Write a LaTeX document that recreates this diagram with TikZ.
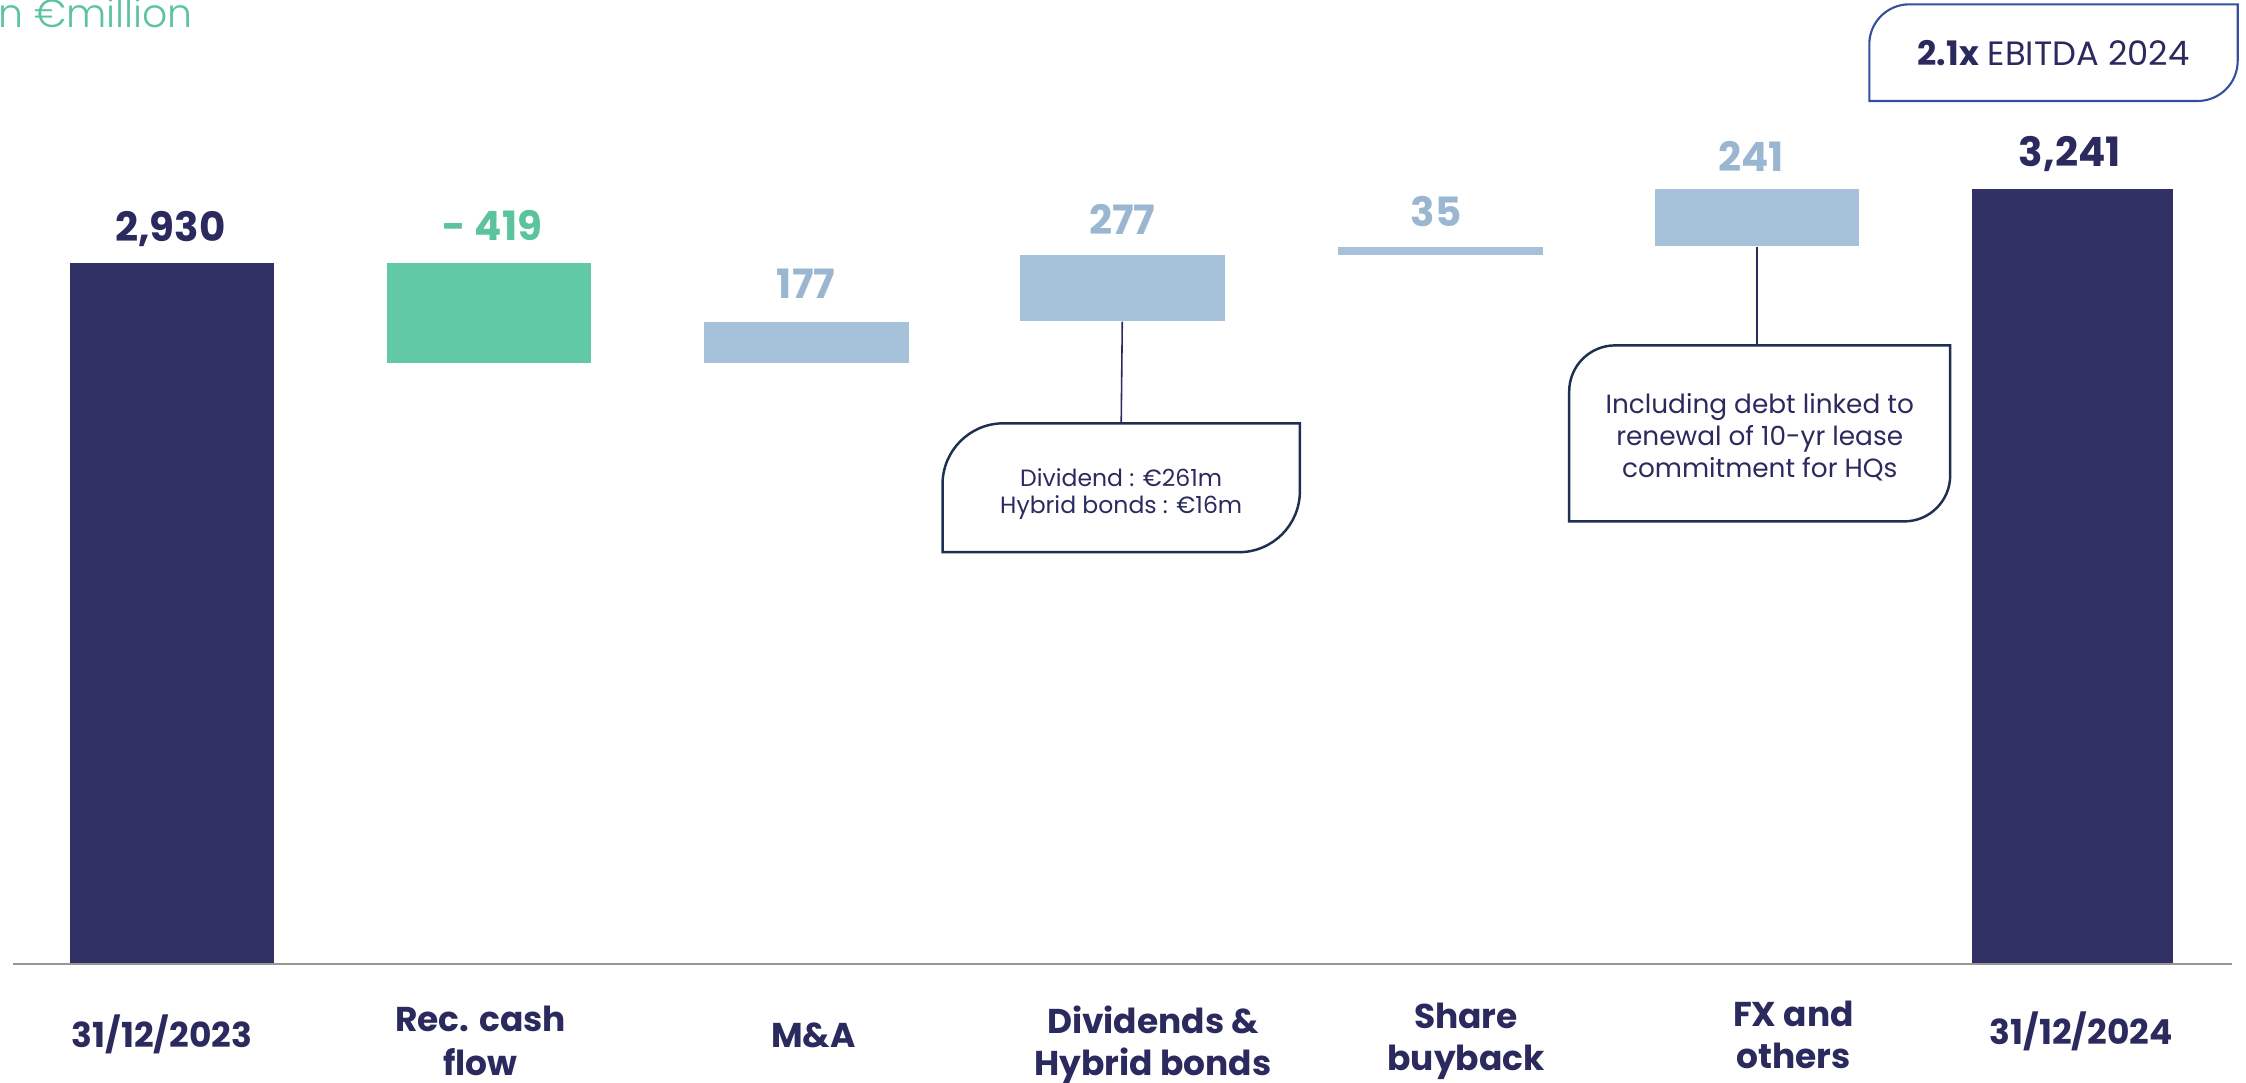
\documentclass[tikz,border=0pt]{standalone}
\usepackage{fontspec}
\setmainfont{Poppins}
\newfontfamily\lightfont{Poppins Light}
\usetikzlibrary{fit}
\definecolor{navybar}{RGB}{50,49,102}
\definecolor{navytext}{RGB}{43,42,94}
\definecolor{greenbar}{RGB}{98,201,166}
\definecolor{greentext}{RGB}{91,196,156}
\definecolor{bluebar}{RGB}{166,194,218}
\definecolor{bluetext}{RGB}{154,182,208}
\definecolor{axisgray}{RGB}{150,150,150}
\definecolor{noteblue}{RGB}{30,48,80}
\definecolor{tagblue}{RGB}{52,80,158}
% box with a rounded top left and bottom right corner
\newcommand{\leafpath}[3]{%
  \draw[#3] (#1.south west) -- ([yshift=-#2]#1.north west)
    arc[start angle=180, end angle=90, radius=#2] -- (#1.north east)
    -- ([yshift=#2]#1.south east)
    arc[start angle=0, end angle=-90, radius=#2] -- cycle;}
\tikzset{
  bar/.style={inner sep=0pt, draw=none},
  val/.style={font=\fontsize{11.5}{13}\selectfont\bfseries, inner sep=0pt, anchor=base},
  cat/.style={font=\fontsize{9.8}{12}\selectfont\bfseries, text=navytext,
    align=center, inner sep=0pt, anchor=north},
  notebox/.style={inner sep=0pt},
  note/.style={inner sep=0pt, align=center, text=navytext},
  noteline/.style={draw=noteblue, line width=0.7pt},
  tagline/.style={draw=tagblue, line width=0.6pt},
  link/.style={draw=navytext, line width=0.45pt},
}
\begin{document}
\begin{tikzpicture}[x=0.014324cm, y=-0.014324cm]
      \useasboundingbox (0,0) rectangle (1568,756);
      \node[anchor=base east, inner sep=0pt, text=greentext,
        font=\lightfont\fontsize{11.2}{12}\selectfont] (unit) at (135,19.5) {in €million};
      % bars
      \node[bar, fill=navybar, fit={(48.8,183.7)(191,672)}] (b1) {};
      \node[bar, fill=greenbar, fit={(270,183.7)(412.6,253.5)}] (b2) {};
      \node[bar, fill=bluebar, fit={(491.6,224.6)(634.7,253.5)}] (b3) {};
      \node[bar, fill=bluebar, fit={(712,178)(855,224)}] (b4) {};
      \node[bar, fill=bluebar, fit={(934,172.2)(1077,178)}] (b5) {};
      \node[bar, fill=bluebar, fit={(1155.6,132)(1298,172)}] (b6) {};
      \node[bar, fill=navybar, fit={(1377,132)(1517,672)}] (b7) {};
      \draw[draw=axisgray, line width=0.8pt] (9,673) -- (1558,673);
      % values
      \node[val, text=navytext] (v1) at (119,168.7) {2,930};
      \node[val, text=greentext] (v2) at (343.8,167.6) {- 419};
      \node[val, text=bluetext] (v3) at (562.8,208.3) {177};
      \node[val, text=bluetext] (v4) at (783.5,164) {277};
      \node[val, text=bluetext] (v5) at (1002.6,158.3) {35};
      \node[val, text=bluetext] (v6) at (1222.6,119.8) {241};
      \node[val, text=navytext] (v7) at (1445,116.4) {3,241};
      % categories
      \node[cat, anchor=base] (c1) at (113,731) {31/12/2023};
      \node[cat, font=\fontsize{9.8}{12.6}\selectfont\bfseries] (c2) at (335.5,701.6) {Rec. cash\\flow};
      \node[cat, anchor=base] (c3) at (568,731) {M\&A};
      \node[cat] (c4) at (805,701.6) {Dividends \&\\Hybrid bonds};
      \node[cat] (c5) at (1023.5,699.5) {Share\\buyback};
      \node[cat] (c6) at (1252,698) {FX and\\others};
      \node[cat, anchor=base] (c7) at (1453,729.5) {31/12/2024};
      % notes
      \node[notebox, fit={(658.5,296)(907,385)}] (divnote) {};
      \leafpath{divnote}{0.61cm}{noteline}
      \node[note, font=\fontsize{6.7}{7.6}\selectfont] (divtext)
        at ([yshift=-0.06cm]divnote.center) {Dividend : €261m\\Hybrid bonds : €16m};
      \node[notebox, fit={(1096,241.6)(1361,363.5)}] (hqnote) {};
      \leafpath{hqnote}{0.46cm}{noteline}
      \node[note, font=\fontsize{7.5}{9.2}\selectfont] (hqtext)
        at ([yshift=-0.04cm]hqnote.center)
        {Including debt linked to\\renewal of 10-yr lease\\commitment for HQs};
      \node[notebox, fit={(1305.5,3.5)(1561.7,70)}] (tag) {};
      \leafpath{tag}{0.4cm}{tagline}
      \node[note, font=\fontsize{9.6}{10}\selectfont] (tagtext)
        at (tag.center) {\textbf{2.1x} EBITDA 2024};
      \draw[link] (b4.south) -- (divnote.north);
      \draw[link] (b6.south) -- (b6.south |- hqnote.north);
    \end{tikzpicture}
\end{document}
